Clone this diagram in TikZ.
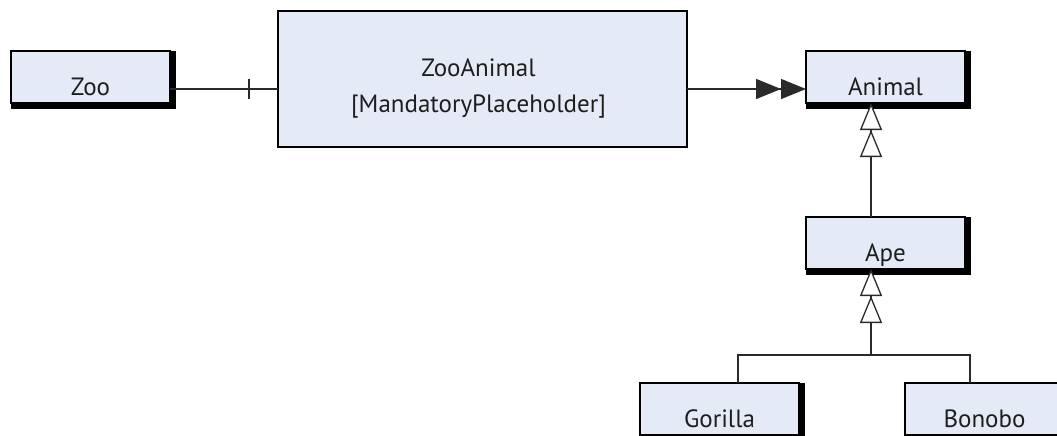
\documentclass[tikz,border=0pt]{standalone}
\usepackage{fontspec}
\setmainfont{PT Sans}
\usetikzlibrary{arrows.meta,calc,backgrounds}
\definecolor{boxfill}{HTML}{E4EBF6}
\definecolor{ink}{HTML}{1E1E1E}
\definecolor{wire}{HTML}{2A2A2A}
\begin{document}
\begin{tikzpicture}[x=1pt,y=-1pt,
  classbox/.style={draw=black, line width=1.6pt, fill=boxfill,
    minimum width=159pt, minimum height=52pt, inner sep=0pt, outer sep=0pt,
    anchor=north west},
  bigbox/.style={classbox, line width=2.6pt, minimum width=409pt, minimum height=136pt},
  cname/.style={font=\fontsize{25}{30}\selectfont, text=ink, inner sep=0pt, anchor=base},
  link/.style={draw=wire, line width=1.4pt},
  gen/.tip={Triangle[open, fill=white, length=27pt, width=22pt, line width=1.3pt, sep=0pt]},
  agg/.tip={Triangle[length=25pt, width=20pt, sep=0pt]},
]
\useasboundingbox (0,0) rectangle (1057,436);
\clip (0,0) rectangle (1057,436);

% class boxes
\node[classbox] (zoo)     at (11,51)   {};
\node[bigbox]   (zooanimal) at (278,11) {};
\node[classbox] (animal)  at (806,51)  {};
\node[classbox] (ape)     at (806,217) {};
\node[classbox] (gorilla) at (640,383) {};
\node[classbox] (bonobo)  at (905,383) {};

% heavy drop shadows on the right and bottom edges
\begin{scope}[on background layer]
  \foreach \b in {zoo,animal,ape,gorilla,bonobo}
    \fill[black] (\b.north west) rectangle ($(\b.south east)+(6,6)$);
\end{scope}

% class names
\node[cname] (zoo-name)    at ($(zoo.north)+(0,44)$)    {Zoo};
\node[cname] (animal-name) at ($(animal.north)+(0,44)$) {Animal};
\node[cname] (ape-name)    at ($(ape.north)+(0,44)$)    {Ape};
\node[cname] (gorilla-name) at ($(gorilla.north)+(0,44)$) {Gorilla};
\node[cname] (bonobo-name) at ($(bonobo.north)+(0,44)$) {Bonobo};
\node[cname] (za-name)   at ($(zooanimal.north)+(-4,66)$)  {ZooAnimal};
\node[cname] (za-stereo) at ($(zooanimal.north)+(-4,101)$) {[MandatoryPlaceholder]};

% connector guides
\coordinate (row) at (0,89);
\coordinate (gx)  at (871,0);
\coordinate (bus) at (871,355);
\coordinate (lx)  at (738,0);
\coordinate (rx)  at (970,0);

% Zoo -- ZooAnimal, with a single bar near ZooAnimal
\draw[link] (zoo.east |- row) -- (zooanimal.west |- row);
\draw[link] ($(zooanimal.west |- row)+(-29,-10)$) -- ++(0,20);

% ZooAnimal -> Animal, double filled head
\draw[link, -{agg[]agg[]}] (zooanimal.east |- row) -- (animal.west |- row);

% Ape -> Animal generalisation
\draw[link, -{gen[]gen[]}] (ape.north -| gx) -- (animal.south -| gx);

% Gorilla, Bonobo -> Ape generalisation
\draw[link, -{gen[]gen[]}] (bus) -- (ape.south -| gx);
\draw[link] (gorilla.north -| lx) -- (lx |- bus) -- (rx |- bus) -- (bonobo.north -| rx);
\end{tikzpicture}
\end{document}
